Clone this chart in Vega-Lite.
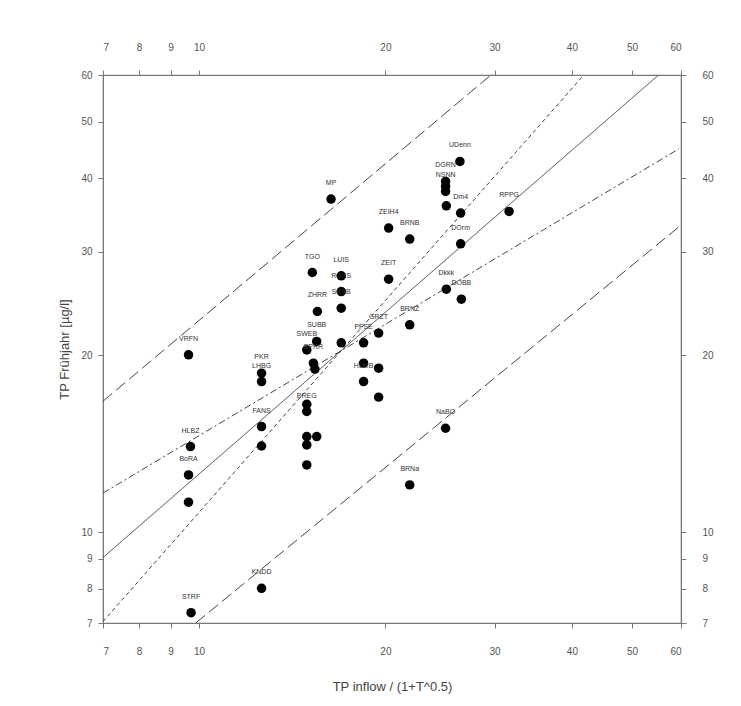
{
  "$schema": "https://vega.github.io/schema/vega-lite/v6.json",
  "autosize": {"type": "none"},
  "width": 578,
  "height": 548,
  "padding": {"left": 103, "top": 75, "right": 60, "bottom": 83},
  "background": "white",
  "config": {
    "font": "Liberation Sans",
    "view": {"stroke": "#777", "strokeWidth": 1.2},
    "axis": {
      "grid": false,
      "domainColor": "#777",
      "tickColor": "#777",
      "tickSize": 5,
      "labelColor": "#555",
      "labelFontSize": 10,
      "labelFont": "Liberation Sans",
      "titleFont": "Liberation Sans",
      "titleFontSize": 13,
      "titleFontWeight": "normal",
      "titleColor": "#444"
    }
  },
  "datasets": {
    "pts": [
      {"x": 9.71, "y": 7.29, "name": "STRF"},
      {"x": 12.62, "y": 8.02, "name": "KNDD"},
      {"x": 9.62, "y": 11.24, "name": ""},
      {"x": 9.62, "y": 12.51, "name": "BoRA"},
      {"x": 9.69, "y": 13.98, "name": "HLBZ"},
      {"x": 9.62, "y": 20.03, "name": "VRFN"},
      {"x": 12.62, "y": 18.64, "name": "PKR"},
      {"x": 12.62, "y": 18.04, "name": "LHBG"},
      {"x": 12.62, "y": 15.12, "name": "FANS"},
      {"x": 12.62, "y": 14.01, "name": ""},
      {"x": 14.93, "y": 16.04, "name": "BREG"},
      {"x": 14.93, "y": 16.5, "name": ""},
      {"x": 14.93, "y": 14.54, "name": ""},
      {"x": 15.49, "y": 14.54, "name": ""},
      {"x": 14.93, "y": 14.07, "name": ""},
      {"x": 14.93, "y": 13.01, "name": ""},
      {"x": 14.93, "y": 20.42, "name": "SWEB"},
      {"x": 15.49, "y": 21.11, "name": "SUBB"},
      {"x": 15.3, "y": 19.39, "name": "BPRR"},
      {"x": 15.39, "y": 18.94, "name": ""},
      {"x": 16.97, "y": 21.0, "name": ""},
      {"x": 18.44, "y": 21.0, "name": "PFSE"},
      {"x": 19.5, "y": 21.81, "name": "GRZT"},
      {"x": 18.44, "y": 19.39, "name": ""},
      {"x": 19.5, "y": 19.01, "name": ""},
      {"x": 18.44, "y": 18.04, "name": "HLMB"},
      {"x": 19.5, "y": 16.97, "name": ""},
      {"x": 15.53, "y": 23.74, "name": "ZHRR"},
      {"x": 16.97, "y": 24.05, "name": "SRXB"},
      {"x": 15.24, "y": 27.66, "name": "TGO"},
      {"x": 16.97, "y": 27.3, "name": "LUIS"},
      {"x": 16.97, "y": 25.67, "name": "ROXS"},
      {"x": 16.34, "y": 36.89, "name": "MP"},
      {"x": 20.24, "y": 32.92, "name": "ZEIH4"},
      {"x": 21.89, "y": 31.53, "name": "BRNB"},
      {"x": 20.24, "y": 26.95, "name": "ZEIT"},
      {"x": 21.89, "y": 22.53, "name": "BRNZ"},
      {"x": 25.01, "y": 15.02, "name": "NaBO"},
      {"x": 21.89, "y": 12.03, "name": "BRNa"},
      {"x": 26.38, "y": 42.75, "name": "UDenn"},
      {"x": 25.01, "y": 39.53, "name": "DGRN"},
      {"x": 25.01, "y": 38.76, "name": ""},
      {"x": 25.01, "y": 38.01, "name": "NSNN"},
      {"x": 25.08, "y": 35.93, "name": ""},
      {"x": 26.45, "y": 34.92, "name": "Dm4"},
      {"x": 31.67, "y": 35.14, "name": "RPPG"},
      {"x": 26.45, "y": 30.95, "name": "DOrm"},
      {"x": 25.08, "y": 25.91, "name": "Dkkk"},
      {"x": 26.52, "y": 24.91, "name": "DOBB"}
    ],
    "lines": [
      {"line": "a", "x": 7, "y": 16.7},
      {"line": "a", "x": 29.6, "y": 60},
      {"line": "b", "x": 7, "y": 11.65},
      {"line": "b", "x": 59.5, "y": 44.9},
      {"line": "c", "x": 7, "y": 9.05},
      {"line": "c", "x": 55.2, "y": 60},
      {"line": "d", "x": 7, "y": 7.04},
      {"line": "d", "x": 41.8, "y": 60},
      {"line": "e", "x": 9.88, "y": 7},
      {"line": "e", "x": 60, "y": 33.3}
    ]
  },
  "resolve": {"axis": {"x": "independent", "y": "independent"}},
  "layer": [
    {
      "data": {"name": "lines"},
      "mark": {"type": "line", "color": "#444", "strokeWidth": 1, "clip": true},
      "encoding": {
        "x": {"field": "x", "type": "quantitative",
              "scale": {"type": "log", "domain": [7, 60], "nice": false},
              "axis": {"orient": "bottom", "title": "TP inflow / (1+T^0.5)", "values": [7, 8, 9, 10, 20, 30, 40, 50, 60], "format": "d", "labelPadding": 18, "titlePadding": 24}},
        "y": {"field": "y", "type": "quantitative",
              "scale": {"type": "log", "domain": [7, 60], "nice": false},
              "axis": {"orient": "left", "title": "TP Frühjahr [µg/l]", "values": [7, 8, 9, 10, 20, 30, 40, 50, 60], "format": "d", "labelPadding": 6, "titlePadding": 9}},
        "detail": {"field": "line"},
        "strokeDash": {"field": "line", "type": "nominal", "legend": null,
                       "scale": {"domain": ["a", "b", "c", "d", "e"], "range": [[12, 5], [7, 3, 2, 3], [1, 0], [4, 3], [12, 5]]}}
      }
    },
    {
      "data": {"name": "pts"},
      "mark": {"type": "point", "filled": true, "color": "black", "opacity": 1, "size": 90},
      "encoding": {
        "x": {"field": "x", "type": "quantitative",
              "scale": {"type": "log", "domain": [7, 60], "nice": false},
              "axis": {"orient": "top", "title": null, "values": [7, 8, 9, 10, 20, 30, 40, 50, 60], "format": "d", "labelPadding": 18}},
        "y": {"field": "y", "type": "quantitative",
              "scale": {"type": "log", "domain": [7, 60], "nice": false},
              "axis": {"orient": "right", "title": null, "values": [7, 8, 9, 10, 20, 30, 40, 50, 60], "format": "d", "labelPadding": 16}}
      }
    },
    {
      "data": {"name": "pts"},
      "mark": {"type": "text", "fontSize": 7, "color": "#333", "dy": -16, "font": "Liberation Sans"},
      "encoding": {
        "x": {"field": "x", "type": "quantitative",
              "scale": {"type": "log", "domain": [7, 60], "nice": false}, "axis": null},
        "y": {"field": "y", "type": "quantitative",
              "scale": {"type": "log", "domain": [7, 60], "nice": false}, "axis": null},
        "text": {"field": "name"}
      }
    }
  ]
}
